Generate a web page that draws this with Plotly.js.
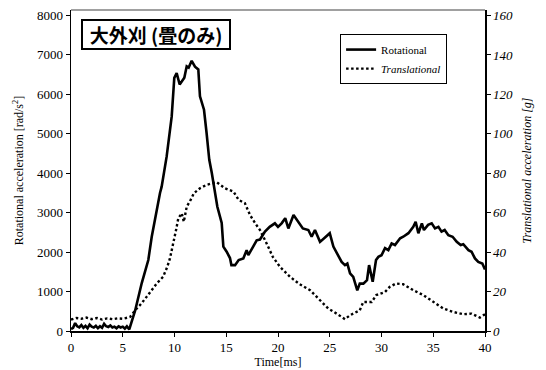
<!DOCTYPE html>
<html>
<head>
<meta charset="utf-8">
<script src="https://cdn.plot.ly/plotly-3.0.1.min.js"></script>
<style>html,body{margin:0;padding:0;background:#fff;}#chart{width:546px;height:370px;}</style>
</head>
<body>
<div id="chart"></div>
<script>
// Rotational acceleration [rad/s^2]
const rotTime = [0,0.2,0.4,0.6,0.8,1.0,1.2,1.4,1.6,1.8,2.0,2.2,2.4,2.6,2.8,3.0,3.2,3.4,3.6,3.8,4.0,4.2,4.4,4.6,4.8,5.0,5.2,5.4,5.63,
  6.2,6.83,7.47,7.8,8.2,8.6,8.76,9.24,9.73,9.98,10.21,10.5,10.95,11.18,11.37,11.66,11.98,12.3,12.46,12.85,13.1,13.36,13.6,13.85,
  14.14,14.56,14.72,15.04,15.36,15.5,15.85,16.2,16.65,16.97,17.13,17.6,17.94,18.26,18.74,19.2,19.7,20.0,20.35,20.7,21.0,21.5,21.96,
  22.4,22.93,23.25,23.57,24.06,24.54,25.0,25.35,25.67,26.15,26.47,26.7,26.96,27.27,27.66,27.9,28.25,28.6,28.8,29.15,29.47,29.7,30.0,
  30.34,30.66,30.98,31.3,31.8,32.1,32.6,33.07,33.3,33.56,33.9,34.1,34.5,34.85,35.17,35.5,35.8,36.1,36.46,36.87,37.27,37.65,37.9,
  38.4,38.7,39.03,39.35,39.74,40];
const rotValues = [50,80,200,120,90,150,80,130,70,160,110,90,130,70,120,80,180,120,100,140,90,110,70,120,90,110,60,120,40,
  520,1210,1800,2390,2990,3500,3660,4420,5440,6420,6540,6250,6420,6710,6680,6850,6700,6630,5950,5610,5020,4340,4010,3580,
  3150,2740,2140,2010,1850,1670,1670,1800,1840,2050,1925,2140,2300,2320,2520,2640,2730,2640,2730,2860,2600,2940,2770,
  2600,2560,2390,2560,2260,2370,2480,2140,1970,1750,1670,1710,1460,1370,1030,1200,1200,1290,1670,1250,1800,1880,1920,
  2100,2050,2220,2180,2350,2390,2480,2640,2770,2480,2730,2560,2690,2730,2600,2640,2520,2560,2430,2390,2260,2180,2200,
  2050,2010,1840,1750,1710,1560];

// Translational acceleration [g]
const transTime = [0,0.5,1,1.5,2,2.5,3,3.5,4,4.5,5,5.7,6.2,6.8,7.3,7.8,8.28,8.9,9.3,9.56,9.9,10.15,10.37,10.7,10.9,11.18,11.56,11.88,
  12.46,13.1,14.07,14.88,15.7,16.2,16.8,17.3,17.8,18.26,18.9,19.5,20.2,21.16,22.1,23.1,24.06,24.86,25.67,26.47,26.96,27.9,28.24,
  29.05,29.5,30.34,30.8,31.4,32.1,33.07,34.04,35.0,35.97,36.9,37.9,38.7,39.5,40];
const transValues = [5.8,6.6,6.2,6.8,6.0,6.6,5.8,6.4,6.0,6.4,6.2,7.1,10.5,13.9,17.3,20.7,24.1,27.5,32.5,36.8,44.4,51.2,57.2,59.7,55.4,63,66.5,69.9,
  72.4,74.1,75.5,72.4,70.7,66.5,64.8,58.8,54.6,51.2,44.4,37.6,32.5,27.5,23.7,20.7,15.6,11.4,8.8,6.0,8.0,10.5,14.7,
  14.7,18.2,19.8,22.4,24.1,23.7,20.7,18.2,14.7,11.4,9.7,8.5,8.8,6.8,8.5];

const xTicks = [0,5,10,15,20,25,30,35,40];
const yTicks = [0,1000,2000,3000,4000,5000,6000,7000,8000];
const y2Ticks = [0,20,40,60,80,100,120,140,160];
const titleText = '大外刈 (畳のみ)';

const serif = 'Liberation Serif';

const traces = [
  {x: rotTime, y: rotValues, type: 'scatter', mode: 'lines', name: 'Rotational',
   line: {color: '#000', width: 2.6}, yaxis: 'y'},
  {x: transTime, y: transValues, type: 'scatter', mode: 'lines', name: '<i>Translational</i>',
   line: {color: '#000', width: 2.4, dash: '2.5px,2.5px'}, yaxis: 'y2'}
];

const layout = {
  width: 546, height: 370,
  margin: {l: 71, r: 61, t: 10, b: 39},
  paper_bgcolor: '#fff', plot_bgcolor: '#fff',
  font: {family: serif, color: '#000', size: 13},
  showlegend: true,
  legend: {x: 0.65, y: 0.925, xanchor: 'left', yanchor: 'top', bgcolor: '#fff',
           bordercolor: '#000', borderwidth: 1, font: {family: serif, size: 11},
           tracegroupgap: 0, itemwidth: 30},
  xaxis: {range: [0, 40], tickvals: xTicks, ticktext: xTicks.map(String), showgrid: false, zeroline: false,
          showline: true, linecolor: '#000', linewidth: 1.5, ticks: 'outside', ticklen: 4, tickcolor: '#000',
          tickfont: {family: serif, size: 13},
          title: {text: 'Time[ms]', font: {family: serif, size: 12}, standoff: 2}},
  yaxis: {range: [0, 8139], tickvals: yTicks, ticktext: yTicks.map(String), showgrid: false, zeroline: false,
          showline: true, linecolor: '#000', linewidth: 1.5, ticks: 'outside', ticklen: 4, tickcolor: '#000',
          tickfont: {family: serif, size: 13},
          title: {text: 'Rotational acceleration [rad/s<sup>2</sup>]', font: {family: serif, size: 12}, standoff: 10}},
  yaxis2: {range: [0, 162.8], overlaying: 'y', side: 'right', tickvals: y2Ticks,
           ticktext: y2Ticks.map(v => '<i>' + v + '</i>'), showgrid: false, zeroline: false,
           showline: true, linecolor: '#000', linewidth: 1.5, ticks: 'outside', ticklen: 4, tickcolor: '#000',
           tickfont: {family: serif, size: 13},
           title: {text: '<i>Translational acceleration [g]</i>', font: {family: serif, size: 12}, standoff: 10}},
  shapes: [
    {type: 'line', xref: 'paper', yref: 'paper', x0: 0, x1: 1, y0: 1, y1: 1,
     line: {color: '#808080', width: 1.5}}
  ],
  annotations: [
    {text: '<b>' + titleText + '</b>', xref: 'paper', yref: 'paper', x: 0.2065, y: 0.925,
     xanchor: 'center', yanchor: 'middle', showarrow: false, width: 146, align: 'center',
     font: {family: 'Noto Sans CJK JP', size: 19, color: '#000'},
     bgcolor: '#fff', bordercolor: '#000', borderwidth: 2, borderpad: 0}
  ]
};

Plotly.newPlot('chart', traces, layout, {displayModeBar: false, staticPlot: true});
</script>
</body>
</html>
